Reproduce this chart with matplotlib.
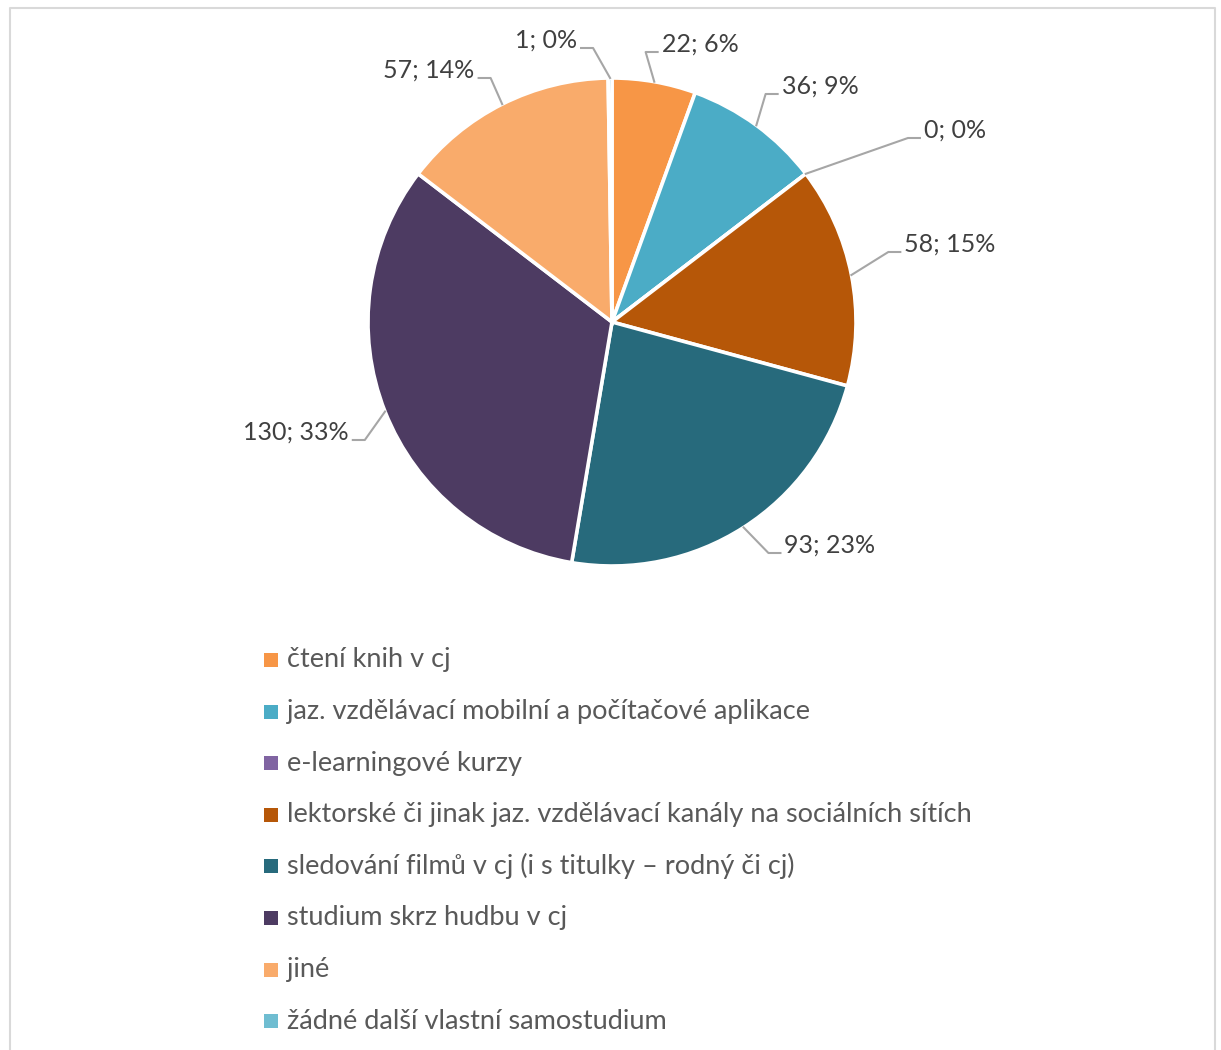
import matplotlib.pyplot as plt
import numpy as np

plt.rcParams['font.family'] = ['Lato', 'DejaVu Sans']

categories = [
    "čtení knih v cj",
    "jaz. vzdělávací mobilní a počítačové aplikace",
    "e-learningové kurzy",
    "lektorské či jinak jaz. vzdělávací kanály na sociálních sítích",
    "sledování filmů v cj (i s titulky – rodný či cj)",
    "studium skrz hudbu v cj",
    "jiné",
    "žádné další vlastní samostudium",
]
counts = [22, 36, 0, 58, 93, 130, 57, 1]
colors = ["#F79646", "#4BACC6", "#8064A2", "#B65708",
          "#276A7C", "#4D3B62", "#F9AB6B", "#6FBDD1"]

# where each data label sits (pixel layout, y measured from top)
label_pos = [(700, 44), (820, 86), (955, 130), (950, 244),
             (830, 545), (296, 432), (429, 70), (546, 40)]

W, H = 1221, 1050
fig = plt.figure(figsize=(W / 100, H / 100), dpi=100)
ax = fig.add_axes([0, 0, 1, 1])

cx, cy, r = 612, H - 322, 244
wedges, _ = ax.pie(counts, colors=colors, startangle=90, counterclock=False,
                   radius=r, center=(cx, cy), frame=True,
                   wedgeprops=dict(edgecolor='white', linewidth=2.6))
ax.set_xlim(0, W)
ax.set_ylim(0, H)
ax.axis('off')

total = sum(counts)
for w, n, (tx, ty) in zip(wedges, counts, label_pos):
    mid = np.deg2rad((w.theta1 + w.theta2) / 2)
    px, py = cx + r * np.cos(mid), cy + r * np.sin(mid)
    ty = H - ty
    txt = ax.text(tx, ty, f"{n}; {round(100 * n / total)}%", ha='center', va='center',
                  fontsize=18, color='#404040')
    fig.canvas.draw()
    bb = txt.get_window_extent().transformed(ax.transData.inverted())
    if tx > px:
        ex = bb.x0 - 4
        elbow = ex - 12
    else:
        ex = bb.x1 + 4
        elbow = ex + 12
    ly = ty - 8
    ax.plot([px, elbow, ex], [py, ly, ly], color='#A6A6A6', lw=1.5)

# legend, one row per category
for i, (c, name) in enumerate(zip(colors, categories)):
    y = H - (660 + i * 51.6)
    ax.scatter([271], [y], marker='s', s=90, color=c, linewidths=0)
    ax.text(287, y, name, ha='left', va='center', fontsize=19.5, color='#595959')

# chart area outline
ax.plot([10, 10, 1215, 1215], [-5, H - 8, H - 8, -5], color='#D9D9D9', lw=1.5)

fig.savefig('out.png', dpi=100)
